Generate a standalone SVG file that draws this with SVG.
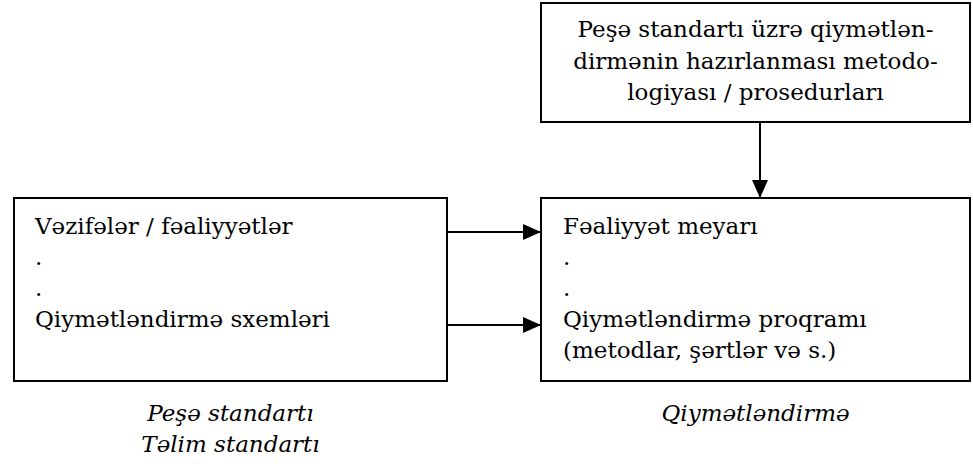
<svg xmlns="http://www.w3.org/2000/svg" width="973" height="466" viewBox="0 0 973 466">
<style>
.box{fill:#fff;stroke:#000;stroke-width:2}
.t{font-family:"DejaVu Serif","Liberation Serif",serif;font-size:23px;fill:#000}
.c{text-anchor:middle}
.i{font-style:italic}
.ln{stroke:#000;stroke-width:2;fill:none}
</style>
<defs>
<marker id="ah" markerUnits="userSpaceOnUse" markerWidth="18" markerHeight="16" refX="18" refY="8" orient="auto">
<path d="M0,0 L18,8 L0,16 Z" fill="#000"/>
</marker>
</defs>
<rect width="973" height="466" fill="#fff"/>
<g id="connectors">
<line class="ln" x1="760" y1="122" x2="760" y2="198" marker-end="url(#ah)"/>
<line class="ln" x1="447" y1="232" x2="541" y2="232" marker-end="url(#ah)"/>
<line class="ln" x1="447" y1="325" x2="541" y2="325" marker-end="url(#ah)"/>
</g>
<g id="node-method">
<rect class="box" x="541" y="3" width="429" height="119"/>
<text class="t c" x="755.5" y="37">Peşə standartı üzrə qiymətlən-</text>
<text class="t c" x="755.5" y="68.5">dirmənin hazırlanması metodo-</text>
<text class="t c" x="755.5" y="100">logiyası / prosedurları</text>
</g>
<g id="node-standard">
<rect class="box" x="14" y="198" width="433" height="183"/>
<text class="t" x="35" y="234">Vəzifələr / fəaliyyətlər</text>
<text class="t" x="35" y="265">.</text>
<text class="t" x="35" y="296">.</text>
<text class="t" x="35" y="327">Qiymətləndirmə sxemləri</text>
</g>
<g id="node-assessment">
<rect class="box" x="541" y="198" width="429" height="183"/>
<text class="t" x="563" y="234">Fəaliyyət meyarı</text>
<text class="t" x="563" y="265">.</text>
<text class="t" x="563" y="296">.</text>
<text class="t" x="563" y="327">Qiymətləndirmə proqramı</text>
<text class="t" x="563" y="358">(metodlar, şərtlər və s.)</text>
</g>
<g id="label-standard">
<text class="t c i" x="230.5" y="421">Peşə standartı</text>
<text class="t c i" x="230.5" y="452">Təlim standartı</text>
</g>
<g id="label-assessment">
<text class="t c i" x="755.5" y="421">Qiymətləndirmə</text>
</g>
</svg>
